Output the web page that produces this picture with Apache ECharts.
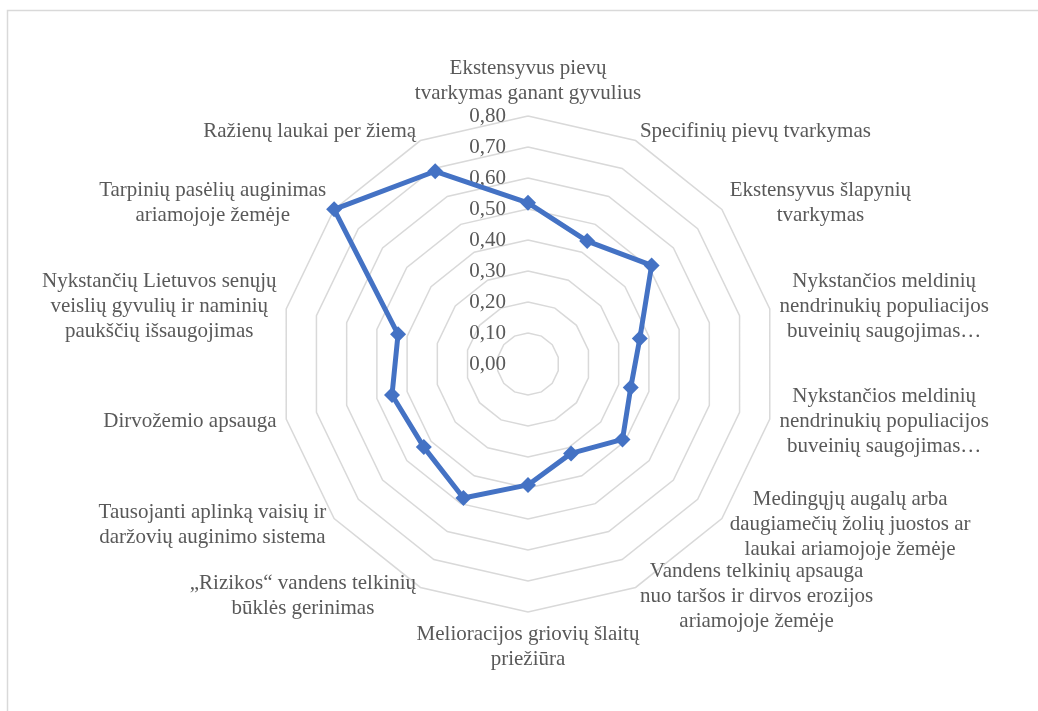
<!DOCTYPE html>
<html>
<head>
<meta charset="utf-8">
<script src="https://cdn.jsdelivr.net/npm/echarts@6/dist/echarts.min.js"></script>
<style>
html, body { margin: 0; padding: 0; background: #ffffff; }
#chart { width: 1038px; height: 711px; }
</style>
</head>
<body>
<div id="chart"></div>
<script>
// Categories in clockwise order starting from the top
var categories = [
  "Ekstensyvus pievų\ntvarkymas ganant gyvulius",
  "Specifinių pievų tvarkymas",
  "Ekstensyvus šlapynių\ntvarkymas",
  "Nykstančios meldinių\nnendrinukių populiacijos\nbuveinių saugojimas…",
  "Nykstančios meldinių\nnendrinukių populiacijos\nbuveinių saugojimas…",
  "Medingųjų augalų arba\ndaugiamečių žolių juostos ar\nlaukai ariamojoje žemėje",
  "Vandens telkinių apsauga\nnuo taršos ir dirvos erozijos\nariamojoje žemėje",
  "Melioracijos griovių šlaitų\npriežiūra",
  "„Rizikos“ vandens telkinių\nbūklės gerinimas",
  "Tausojanti aplinką vaisių ir\ndaržovių auginimo sistema",
  "Dirvožemio apsauga",
  "Nykstančių Lietuvos senųjų\nveislių gyvulių ir naminių\npaukščių išsaugojimas",
  "Tarpinių pasėlių auginimas\nariamojoje žemėje",
  "Ražienų laukai per žiemą"
];
var values = [0.52, 0.44, 0.51, 0.37, 0.34, 0.39, 0.32, 0.39, 0.48, 0.43, 0.45, 0.43, 0.80, 0.69];
var axisMin = 0;
var axisMax = 0.80;
var axisSplits = 8;

var font = '"Liberation Serif", "Times New Roman", serif';
var textColor = '#595959';
var fs = 21;

// ECharts lays radar indicators counter-clockwise; reorder so the picture runs clockwise
var order = [0];
for (var k = categories.length - 1; k >= 1; k--) order.push(k);

var indicators = order.map(function (i, pos) {
  var ind = { name: categories[i], min: axisMin, max: axisMax };
  if (pos === 0) {
    ind.axisLabel = {
      show: true,
      fontFamily: font,
      fontSize: fs,
      color: textColor,
      margin: 22,
      formatter: function (v) { return Number(v).toFixed(2).replace('.', ','); }
    };
  }
  return ind;
});
var seriesData = order.map(function (i) { return values[i]; });

var chart = echarts.init(document.getElementById('chart'), null, { renderer: 'canvas' });
chart.setOption({
  backgroundColor: '#ffffff',
  animation: false,
  graphic: [{
    type: 'rect',
    shape: { x: 7.5, y: 10.5, width: 1100, height: 800 },
    style: { fill: 'none', stroke: '#d9d9d9', lineWidth: 1.5 },
    silent: true
  }],
  radar: {
    center: [528, 364],
    radius: 248,
    startAngle: 90,
    shape: 'polygon',
    splitNumber: axisSplits,
    indicator: indicators,
    axisName: {
      fontFamily: font,
      fontSize: fs,
      color: textColor,
      lineHeight: 25,
      formatter: function (name) {
        return name.split('\n').map(function (l) { return '{c|' + l + '}'; }).join('\n');
      },
      rich: {
        c: { align: 'center', fontFamily: font, fontSize: fs, color: textColor, lineHeight: 25 }
      }
    },
    nameGap: 10,
    axisLine: { show: false },
    axisTick: { show: false },
    axisLabel: { show: false },
    splitLine: { lineStyle: { color: '#d9d9d9', width: 1.5 } },
    splitArea: { show: false }
  },
  series: [{
    type: 'radar',
    symbol: 'diamond',
    symbolSize: 16,
    lineStyle: { color: '#4472C4', width: 5 },
    itemStyle: { color: '#4472C4' },
    data: [{ value: seriesData }]
  }]
});
</script>
</body>
</html>
